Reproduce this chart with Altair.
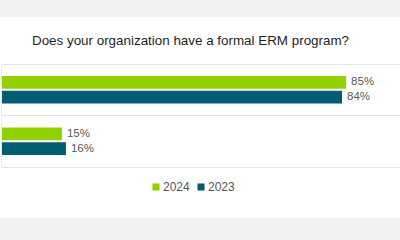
import altair as alt
import pandas as pd

answers = ["Yes", "No"]
years = ["2024", "2023"]
values_2024 = [85, 15]
values_2023 = [84, 16]
labels_2024 = ["85%", "15%"]
labels_2023 = ["84%", "16%"]

rows = []
for i, a in enumerate(answers):
    rows.append({"answer": a, "year": "2024", "value": values_2024[i], "label": labels_2024[i]})
    rows.append({"answer": a, "year": "2023", "value": values_2023[i], "label": labels_2023[i]})
df = pd.DataFrame(rows)

W = 399
H = 103

y_enc = alt.Y("answer:N", sort=answers,
              scale=alt.Scale(paddingInner=0, paddingOuter=0),
              axis=alt.Axis(title=None, labels=False, ticks=False, domain=True,
                            domainColor="#ececec", grid=True, gridColor="#e3e3e3",
                            bandPosition=0, zindex=1))
yoff = alt.YOffset("year:N", sort=years,
                   scale=alt.Scale(paddingInner=0.133, paddingOuter=0.8))
x_enc = alt.X("value:Q", scale=alt.Scale(domain=[0, 100], range=[0, 406], nice=False),
              axis=alt.Axis(title=None, labels=False, ticks=False, grid=False,
                            domain=True, domainColor="#e3e3e3", zindex=1))
color = alt.Color("year:N", sort=years,
                  scale=alt.Scale(domain=years, range=["#92d000", "#005e73"]),
                  legend=alt.Legend(title=None, orient="none", direction="horizontal",
                                    legendX=149, legendY=117, symbolType="square",
                                    symbolSize=50, symbolStrokeWidth=0,
                                    labelFontSize=12, labelColor="#555555",
                                    labelFont="Liberation Sans", columnPadding=5,
                                    labelOffset=1))

panel = alt.Chart(df).mark_rect(color="white").encode(
    x=alt.value(-1), x2=alt.value(W + 1), y=alt.value(-47), y2=alt.value(154)
)

bars = alt.Chart(df).mark_bar(cornerRadius=0).encode(
    x=x_enc, y=y_enc, yOffset=yoff, color=color
)
text = alt.Chart(df).mark_text(align="left", baseline="middle", dx=5, fontSize=11.5,
                               font="Liberation Sans", color="#5a5a5a").encode(
    x="value:Q", y=alt.Y("answer:N", sort=answers), yOffset=alt.YOffset("year:N", sort=years),
    text="label:N"
)

chart = alt.layer(panel, bars, text).properties(
    width=W, height=H,
    title=alt.TitleParams("Does your organization have a formal ERM program?",
                          fontSize=13.4, font="Liberation Sans", fontWeight="normal",
                          color="#1f1f1f", anchor="middle", dx=-10, offset=-30),
    autosize=alt.AutoSizeParams(type="none"),
    padding={"left": 1, "top": 64, "right": 0, "bottom": 73},
    background="#f2f2f2",
).configure_view(stroke=None)

chart.save("out.html", embed_options={"renderer": "svg", "actions": False})
